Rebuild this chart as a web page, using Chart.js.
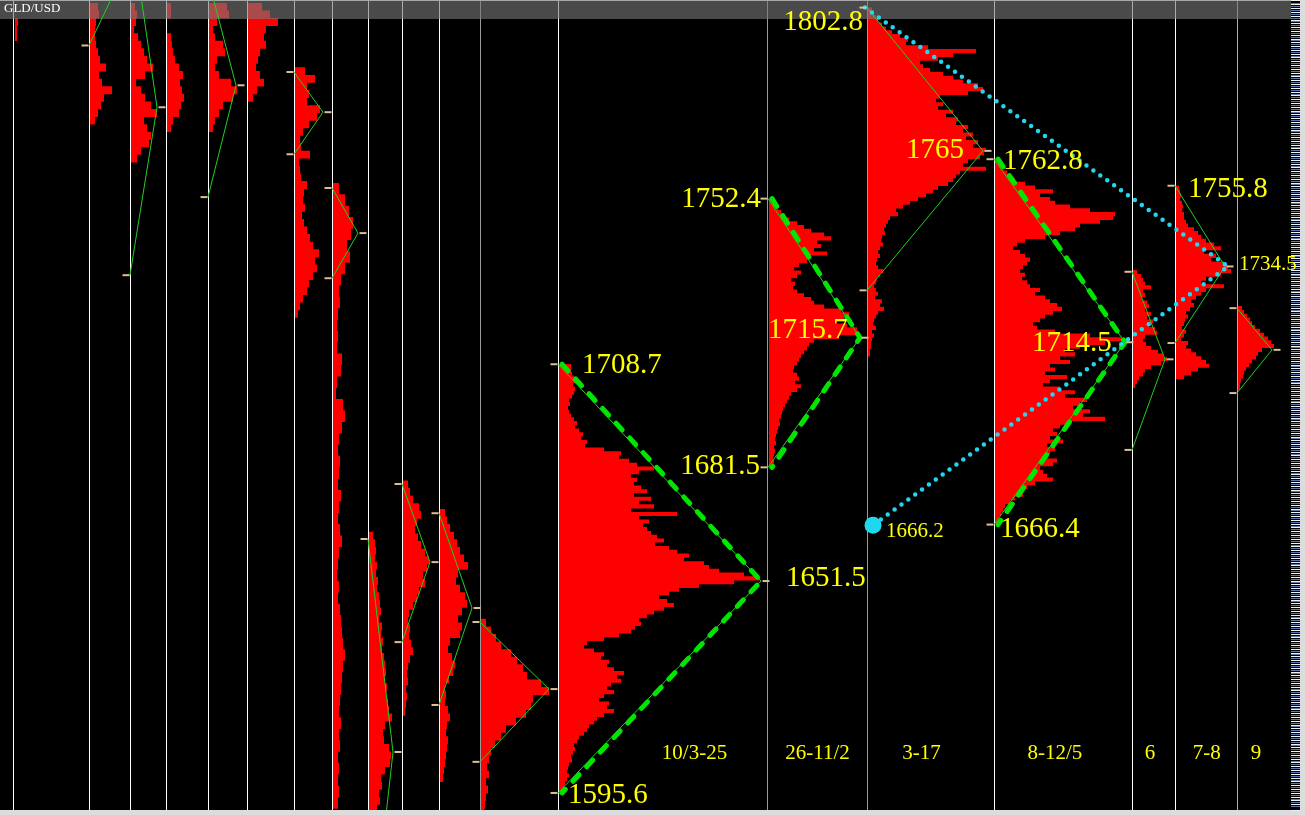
<!DOCTYPE html>
<html>
<head>
<meta charset="utf-8">
<title>GLD/USD</title>
<script src="https://cdn.jsdelivr.net/npm/chart.js@4.4.1/dist/chart.umd.min.js"></script>
<style>
  html, body { margin: 0; padding: 0; background: #000; }
  #wrap { position: relative; width: 1305px; height: 815px; }
</style>
</head>
<body>
<div id="wrap"><canvas id="profileChart"></canvas></div>
<script>
const Y_MIN = 1591.1;
const Y_MAX = 1804.8;

// column separators on the horizontal axis
const COLUMN_X = [14, 89, 130, 166, 208, 247, 294, 332, 368, 402, 439, 480, 558, 768, 867, 994, 1132, 1175, 1237];

// profile of each column: price of first row, row height in USD, row lengths
const PROFILE_TOP = [1799, 1803, 1803, 1803, 1803, 1803, 1786, 1755, 1663.5, 1677, 1669.5, 1640.5,
                     1708.2, 1751.9, 1802.3, 1762.3, 1733, 1755.3, 1723.5];
const PROFILE_STEP = [2, 2, 2, 2, 2, 2, 2, 3, 2, 2, 2, 2, 1, 1, 1, 1, 1, 1, 1];
const PROFILE_ROWS = [
  [3, 2, 2],
  [8, 9, 6, 5, 5, 6, 8, 10, 16, 9, 12, 22, 14, 11, 8, 5],
  [4, 6, 5, 3, 7, 10, 13, 16, 22, 14, 5, 10, 14, 20, 26, 13, 16, 20, 18, 10, 6],
  [4, 4, 0, 0, 4, 5, 6, 8, 12, 16, 13, 15, 17, 14, 12, 6, 4],
  [18, 20, 8, 4, 6, 14, 16, 8, 6, 10, 22, 28, 24, 14, 10, 6, 4],
  [14, 22, 30, 18, 16, 18, 12, 10, 8, 12, 16, 9, 5],
  [10, 20, 12, 14, 12, 25, 22, 14, 8, 5, 6, 15, 4, 5, 6, 12, 9, 8, 10, 7, 9, 12, 15, 18, 24, 20, 22, 18, 14, 12, 8, 5, 3],
  [6, 12, 16, 20, 18, 14, 17, 12, 8, 6, 7, 5, 4, 5, 4, 9, 8, 4, 3, 10, 12, 9, 6, 5, 7, 6, 5, 8, 6, 5,
   7, 9, 6, 5, 4, 6, 5, 7, 8, 9, 10, 12, 10, 9, 8, 7, 6, 8, 6, 7, 5, 6, 5, 6, 5],
  [4, 6, 7, 6, 8, 7, 9, 8, 10, 11, 12, 10, 13, 12, 14, 13, 15, 16, 17, 16, 18, 17, 19, 20, 23, 16, 14, 15, 20, 22, 21, 16, 12, 13, 10, 11, 8],
  [5, 7, 10, 16, 18, 14, 12, 15, 18, 22, 26, 24, 20, 22, 16, 14, 10, 6, 5, 7, 6, 8, 10, 7, 5, 4, 5, 3, 4, 3, 2],
  [5, 7, 10, 14, 17, 20, 24, 28, 18, 16, 20, 25, 27, 22, 18, 22, 20, 10, 8, 12, 15, 13, 9, 5, 6, 5, 8, 10, 7, 6, 8, 7, 6, 5, 4, 3],
  [5, 10, 15, 20, 30, 36, 42, 46, 60, 68, 52, 50, 45, 35, 25, 20, 14, 10, 8, 6, 8, 5, 7, 5, 4, 3],
  [12, 12, 13, 15, 17, 14, 16, 15, 13, 10, 11, 9, 10, 12, 15, 18, 16, 20, 24, 22, 28, 26, 45, 62, 60,
   70, 78, 95, 80, 72, 78, 75, 82, 88, 75, 92, 80, 95, 72, 118, 80, 90, 84, 88, 92, 98, 105, 96, 110,
   118, 130, 125, 145, 150, 160, 185, 201, 175, 140, 120, 110, 100, 108, 115, 105, 95, 88, 80, 82,
   76, 72, 60, 45, 28, 25, 35, 45, 42, 50, 48, 55, 65, 58, 62, 52, 48, 55, 45, 40, 50, 48, 55, 45, 38,
   35, 30, 28, 25, 20, 18, 15, 16, 14, 12, 13, 10, 9, 8, 10, 8, 6, 5, 4],
  [6, 8, 9, 12, 16, 20, 28, 35, 42, 55, 62, 48, 52, 45, 58, 40, 38, 30, 25, 32, 28, 22, 26, 24, 28,
   35, 42, 45, 55, 72, 80, 75, 68, 78, 88, 90, 70, 45, 40, 38, 35, 32, 30, 28, 25, 24, 28, 30, 26,
   32, 28, 22, 20, 18, 16, 14, 13, 12, 10, 11, 9, 8, 7, 6, 7, 5, 6, 5, 4, 5, 3],
  [4, 6, 8, 10, 14, 18, 24, 32, 40, 38, 60, 108, 85, 70, 52, 55, 62, 75, 85, 95, 110, 115, 100,
   72, 68, 75, 70, 85, 78, 90, 88, 100, 95, 105, 98, 110, 105, 118, 116, 112, 100, 95, 118, 92, 88,
   85, 80, 70, 65, 58, 50, 42, 35, 28, 30, 22, 20, 18, 16, 17, 14, 13, 15, 12, 10, 12, 9, 8, 10, 15,
   12, 9, 8, 6, 8, 10, 7, 14, 12, 16, 10, 8, 6, 5, 8, 4, 6, 4, 3, 3, 2, 2],
  [4, 6, 8, 12, 15, 20, 30, 40, 58, 45, 55, 60, 75, 95, 120, 118, 105, 85, 80, 65, 50, 30, 22, 18, 25,
   30, 35, 32, 28, 25, 30, 27, 32, 35, 45, 40, 50, 55, 62, 67, 58, 50, 45, 38, 42, 60, 95, 126, 110,
   85, 70, 80, 65, 75, 55, 60, 50, 72, 55, 48, 65, 80, 70, 92, 85, 78, 95, 88, 110, 75, 65, 58, 62,
   55, 68, 52, 60, 55, 50, 62, 58, 45, 48, 52, 58, 40, 32, 25, 28, 20, 15, 10, 8, 6, 4, 3],
  [4, 8, 10, 12, 18, 10, 12, 9, 14, 16, 12, 18, 14, 20, 16, 22, 24, 12, 10, 13, 18, 25, 30, 34, 28, 18, 12, 10, 6, 4, 2],
  [3, 4, 5, 4, 6, 7, 6, 8, 8, 10, 12, 18, 22, 25, 30, 38, 45, 28, 40, 35, 48, 52, 55, 45, 30, 25, 48,
   30, 25, 20, 15, 18, 14, 10, 12, 9, 8, 6, 10, 8, 5, 12, 10, 15, 20, 25, 30, 33, 22, 15, 8],
  [4, 6, 9, 12, 14, 17, 22, 26, 30, 33, 36, 24, 20, 18, 14, 11, 8, 6, 5, 3, 2, 2]
];

// high / point of control / low triangles
const TRI_COL   = [1, 2, 4, 6, 7, 8, 9, 10, 11, 12, 13, 14, 15, 16, 17, 18];
const TRI_HIGH  = [1830, 1826, 1810.6, 1785.8, 1755.2, 1662.6, 1677.1, 1669.4, 1640.7, 1708.7, 1752.4, 1802.8, 1762.8, 1733.1, 1755.8, 1723.5];
const TRI_POC   = [1809.4, 1776.5, 1782.3, 1775.2, 1743.3, 1606.4, 1656.5, 1644.4, 1623.0, 1651.5, 1715.7, 1765, 1714.5, 1710, 1734.5, 1712.5];
const TRI_LOW   = [1792.8, 1732.2, 1752.8, 1764.1, 1731.4, 1547, 1635.4, 1618.8, 1603.8, 1595.6, 1681.5, 1728.2, 1666.4, 1686.1, 1714.3, 1701.1];
const TRI_REACH = [30, 27, 28, 29, 26, 25, 28, 33, 69, 203, 92, 116, 131, 33, 50, 35];
const DASHED_COLS = [12, 13, 15];

// cyan dotted channel
const CYAN_X = [865, 1228, 873];
const CYAN_PRICE = [1802.8, 1734.5, 1666.2];

const WEEK_LABELS = ["10/3-25", "26-11/2", "3-17", "8-12/5", "6", "7-8", "9"];
const WEEK_LABEL_X = [694.5, 817.6, 921.4, 1054.8, 1150, 1206.7, 1256];

const NOTES = [
    { text: "1802.8", x: 863,  y: 1799.0, size: 29, align: "right" },
    { text: "1765",   x: 906,  y: 1765.2, size: 29, align: "left" },
    { text: "1762.8", x: 1003, y: 1762.3, size: 29, align: "left" },
    { text: "1752.4", x: 761,  y: 1752.3, size: 29, align: "right" },
    { text: "1755.8", x: 1188, y: 1754.9, size: 29, align: "left" },
    { text: "1734.5", x: 1239, y: 1734.9, size: 21, align: "left" },
    { text: "1715.7", x: 768,  y: 1717.6, size: 29, align: "left" },
    { text: "1714.5", x: 1032, y: 1714.2, size: 29, align: "left" },
    { text: "1708.7", x: 582,  y: 1708.5, size: 29, align: "left" },
    { text: "1681.5", x: 760,  y: 1681.8, size: 29, align: "right" },
    { text: "1666.2", x: 886,  y: 1664.6, size: 21, align: "left" },
    { text: "1666.4", x: 1000, y: 1665.1, size: 29, align: "left" },
    { text: "1651.5", x: 786,  y: 1652.3, size: 29, align: "left" },
    { text: "1595.6", x: 568,  y: 1595.0, size: 29, align: "left" }
];

function profileData(c) {
    const x0 = COLUMN_X[c] + 1;
    const pts = [];
    PROFILE_ROWS[c].forEach((len, k) => {
        const p = PROFILE_TOP[c] - k * PROFILE_STEP[c];
        pts.push({ x: x0, y: p }, { x: x0 + len, y: p }, { x: x0, y: null });
    });
    return pts;
}

function triangleData(cols, inset) {
    const pts = [];
    TRI_COL.forEach((c, i) => {
        if (cols && !cols.includes(c)) return;
        const x = COLUMN_X[c];
        pts.push({ x: x + inset, y: TRI_HIGH[i] },
                 { x: x + TRI_REACH[i], y: TRI_POC[i] },
                 { x: x + inset, y: TRI_LOW[i] },
                 { x: x, y: null });
    });
    return pts;
}

function markerData() {
    const pts = [];
    TRI_COL.forEach((c, i) => {
        const x = COLUMN_X[c];
        [[x - 4, TRI_HIGH[i]], [x + TRI_REACH[i] + 5, TRI_POC[i]], [x - 4, TRI_LOW[i]]].forEach(([px, p]) => {
            if (p > Y_MIN && p < Y_MAX) pts.push({ x: px, y: p });
        });
    });
    return pts;
}

function rowHeight(chart, step) {
    const s = chart.scales.y;
    if (!s) return 4;
    return Math.abs(s.getPixelForValue(Y_MIN) - s.getPixelForValue(Y_MIN + step)) + 0.3;
}

const datasets = COLUMN_X.map((x, c) => ({
    data: profileData(c),
    showLine: true,
    borderColor: "#ff0000",
    borderWidth: ctx => rowHeight(ctx.chart, PROFILE_STEP[c]),
    borderCapStyle: "butt",
    pointRadius: 0,
    order: 10
}));

datasets.push({
    data: triangleData(null, 0),
    showLine: true,
    borderColor: "#20d020",
    borderWidth: 1,
    pointRadius: 0,
    order: 5
}, {
    data: triangleData(DASHED_COLS, 4),
    showLine: true,
    borderColor: "#00e600",
    borderWidth: 5,
    borderDash: [9, 11],
    borderCapStyle: "round",
    pointRadius: 0,
    order: 4
}, {
    data: CYAN_X.map((x, i) => ({ x: x, y: CYAN_PRICE[i] })),
    showLine: true,
    borderColor: "#1fd8f0",
    borderWidth: 4.5,
    borderDash: [0, 8.5],
    borderCapStyle: "round",
    pointRadius: 0,
    order: 3
}, {
    data: [{ x: CYAN_X[2], y: CYAN_PRICE[2] }],
    pointRadius: 8.5,
    backgroundColor: "#1fd8f0",
    borderWidth: 0,
    order: 2
}, {
    data: markerData(),
    pointStyle: "line",
    pointRadius: 3.5,
    borderColor: "#dcbf96",
    borderWidth: 2,
    order: 1
});

const stagePlugin = {
    id: "stage",
    beforeDraw(chart) {
        const { ctx, width, height } = chart;
        ctx.save();
        ctx.fillStyle = "#dcdcdc";
        ctx.fillRect(1300, 0, width - 1300, height);
        ctx.fillRect(0, chart.chartArea.bottom, width, height - chart.chartArea.bottom);
        ctx.restore();
    },
    afterDatasetDraw(chart, args) {
        if (args.index !== 0) return;
        const { ctx, chartArea } = chart;
        ctx.save();
        ctx.fillStyle = "rgba(120,120,120,0.62)";
        ctx.fillRect(0, 0, chartArea.right, 19);
        ctx.fillStyle = "#a8a8a8";
        ctx.fillRect(0, 0, chartArea.right, 1);
        ctx.restore();
    },
    afterDraw(chart) {
        const { ctx, scales } = chart;
        ctx.save();
        ctx.textBaseline = "middle";
        ctx.fillStyle = "#ffff00";
        NOTES.forEach(n => {
            ctx.font = n.size + "px 'Liberation Serif'";
            ctx.textAlign = n.align;
            ctx.fillText(n.text, scales.x.getPixelForValue(n.x), scales.y.getPixelForValue(n.y));
        });
        ctx.font = "21px 'Liberation Serif'";
        ctx.textAlign = "center";
        WEEK_LABELS.forEach((t, i) => {
            ctx.fillText(t, scales.x.getPixelForValue(WEEK_LABEL_X[i]), scales.y.getPixelForValue(1606.1));
        });
        ctx.fillStyle = "#ffffff";
        ctx.font = "13px 'Liberation Serif'";
        ctx.textAlign = "left";
        ctx.fillText("GLD/USD", 4, 9);
        ctx.restore();
    }
};

const ctx = document.getElementById("profileChart").getContext("2d");

new Chart(ctx, {
    type: "scatter",
    data: { datasets: datasets },
    options: {
        responsive: true,
        maintainAspectRatio: false,
        animation: false,
        events: [],
        layout: { autoPadding: false, padding: { left: 0, top: 0, right: 5, bottom: 5 } },
        plugins: { legend: { display: false }, tooltip: { enabled: false } },
        elements: { point: { radius: 0 } },
        scales: {
            x: {
                type: "linear",
                min: 0,
                max: 1291,
                afterBuildTicks: s => { s.ticks = COLUMN_X.map(v => ({ value: v })); },
                ticks: { display: false },
                grid: {
                    drawTicks: false,
                    lineWidth: 1,
                    color: c => {
                        const v = COLUMN_X[c.index];
                        if (v === 1237) return "#86b4e8";
                        return [480, 768, 867].includes(v) ? "#9a9a9a" : "#ffffff";
                    }
                },
                border: { display: false }
            },
            y: { type: "linear", display: false, min: Y_MIN, max: Y_MAX },
            yr: {
                type: "linear",
                position: "right",
                min: Y_MIN,
                max: Y_MAX,
                ticks: { display: false, stepSize: 0.5 },
                grid: {
                    drawOnChartArea: false,
                    drawTicks: true,
                    tickLength: 9,
                    color: c => (c.index % 2 ? "#5a78b0" : "#f0f0f0")
                },
                border: { display: false }
            }
        }
    },
    plugins: [stagePlugin]
});
</script>
</body>
</html>
